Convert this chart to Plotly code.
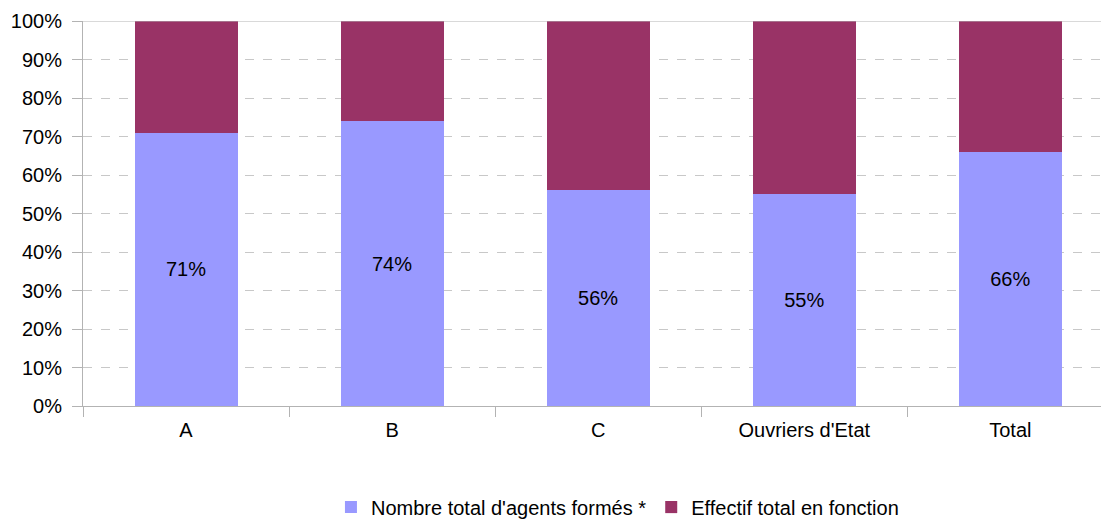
import plotly.graph_objects as go

categories = ["A", "B", "C", "Ouvriers d'Etat", "Total"]
formes_pct = [71, 74, 56, 55, 66]
effectif_pct = [100 - v for v in formes_pct]
y_ticks = list(range(0, 101, 10))
y_tick_labels = [f"{v}%" for v in y_ticks]

BLUE = "#9999FF"
WINE = "#993366"
FONT = "Liberation Sans, Arial, sans-serif"

fig = go.Figure()
fig.add_trace(go.Bar(
    x=categories, y=formes_pct, name="Nombre total d'agents formés *",
    marker=dict(color=BLUE, line=dict(width=0)), width=0.5,
    text=[f"{v}%" for v in formes_pct], textposition="inside",
    insidetextanchor="middle", textangle=0,
    textfont=dict(family=FONT, size=20, color="black"),
))
fig.add_trace(go.Bar(
    x=categories, y=effectif_pct, name="Effectif total en fonction",
    marker=dict(color=WINE, line=dict(width=0)), width=0.5,
))

fig.update_layout(
    barmode="stack",
    width=1101, height=521,
    margin=dict(l=83, r=0, t=21, b=115, autoexpand=False),
    paper_bgcolor="white", plot_bgcolor="white",
    font=dict(family=FONT, size=20, color="black"),
    showlegend=True,
    legend=dict(orientation="h", x=0.525, xanchor="center",
                y=-0.212, yanchor="top",
                font=dict(family=FONT, size=20), itemwidth=30, traceorder="normal",
                tracegroupgap=0),
    xaxis=dict(
        range=[-0.5, 4.44], showgrid=False,
        showline=True, linecolor="#b3b3b3", linewidth=1,
        ticks="outside", tickson="boundaries", ticklen=10, tickcolor="#b3b3b3",
        tickfont=dict(family=FONT, size=20), ticklabelstandoff=6,
    ),
    yaxis=dict(
        range=[0, 100], tickvals=y_ticks, ticktext=y_tick_labels,
        showgrid=True, gridcolor="#c8c8c8", griddash="dash", gridwidth=1,
        showline=True, linecolor="#b3b3b3", linewidth=1,
        ticks="outside", ticklen=10, tickcolor="#b3b3b3",
        tickfont=dict(family=FONT, size=20), zeroline=False,
        ticklabelstandoff=6,
    ),
)

# solid frame line at the 100% level
fig.add_shape(type="line", xref="paper", yref="y", x0=0, x1=1, y0=100, y1=100,
              line=dict(color="#b3b3b3", width=1))

fig.write_html("out.html")
